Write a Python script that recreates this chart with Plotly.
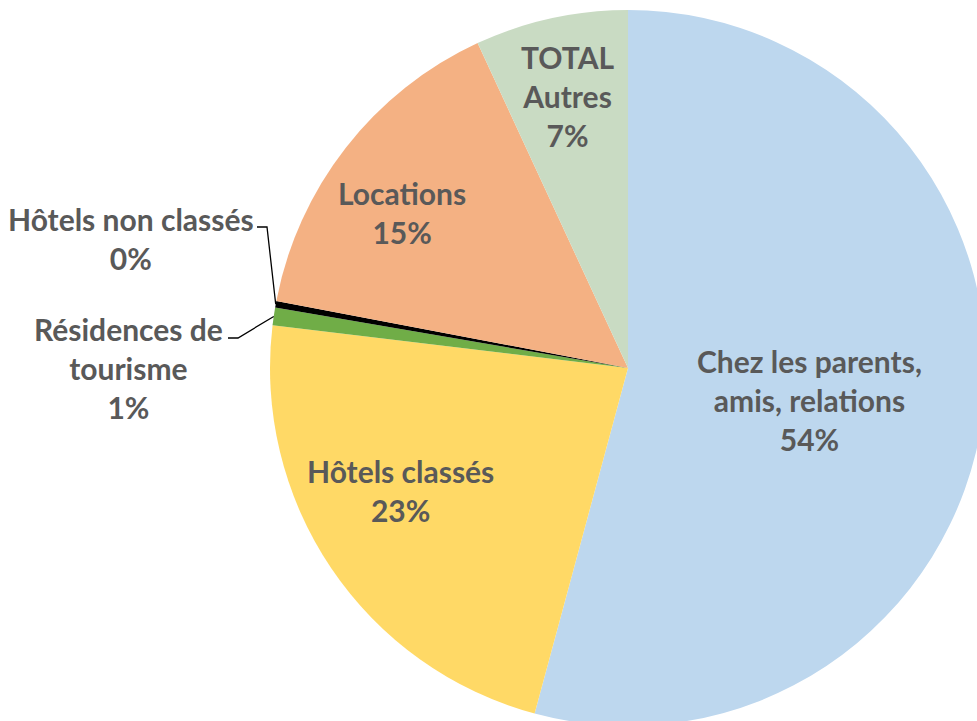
import math
import plotly.graph_objects as go

# data
labels = ["Chez les parents,<br>amis, relations", "Hôtels classés", "Résidences de<br>tourisme",
          "Hôtels non classés", "Locations", "TOTAL<br>Autres"]
values = [54.2, 22.7, 0.8, 0.3, 15.1, 6.9]
colors = ["#BDD7EE", "#FFD966", "#70AD47", "#000000", "#F4B183", "#C9DBC3"]

# label placement: inside -> (radius fraction, angle shift in deg),
# outside -> text centre + leader start (px)
label_place = [
    ("in", 0.516, 2.4),
    ("in", 0.722, 5.8),
    ("out", (128, 368), (228, 338)),
    ("out", (131, 238), (257, 227)),
    ("in", 0.765, -3.5),
    ("in", 0.778, 0.0),
]

W, H = 990, 730
CX, CY, R = 628, 368, 358
FONT = dict(family="Lato, 'Open Sans', sans-serif", size=30, color="#595959", weight="bold")

fig = go.Figure(go.Pie(
    labels=labels,
    values=values,
    sort=False,
    direction="clockwise",
    rotation=0,
    marker=dict(colors=colors, line=dict(width=0)),
    textinfo="none",
    hoverinfo="skip",
    showlegend=False,
    domain=dict(x=[(CX - R) / W, (CX + R) / W], y=[(H - CY - R) / H, (H - CY + R) / H]),
))

total = sum(values)
cum = 0
annotations = []
shapes = []
for lab, v, place in zip(labels, values, label_place):
    mid = 2 * math.pi * (cum + v / 2) / total
    cum += v
    text = f"{lab}<br>{round(v / total * 100)}%"
    if place[0] == "in":
        ang = mid + math.radians(place[2])
        px = CX + R * place[1] * math.sin(ang)
        py = CY - R * place[1] * math.cos(ang)
    else:
        px, py = place[1]
        sx, sy = place[2]
        tx = CX + R * math.sin(mid)
        ty = CY - R * math.cos(mid)
        shapes.append(dict(
            type="path", xref="paper", yref="paper",
            path=f"M {sx / W} {1 - sy / H} L {(sx + 10) / W} {1 - sy / H} L {tx / W} {1 - ty / H}",
            line=dict(color="#000000", width=1.3),
        ))
    annotations.append(dict(
        x=px / W, y=1 - py / H, xref="paper", yref="paper",
        text=text, showarrow=False, xanchor="center", yanchor="middle",
        align="center", font=FONT,
    ))

fig.update_layout(
    width=W, height=H,
    margin=dict(l=0, r=0, t=0, b=0),
    paper_bgcolor="white",
    plot_bgcolor="white",
    annotations=annotations,
    shapes=shapes,
)

# the chart bleeds past the right and bottom edges, like the original
fig.write_html(
    "out.html",
    config=dict(displayModeBar=False),
    post_script="document.body.style.margin='0'; document.body.style.overflow='hidden';",
)
